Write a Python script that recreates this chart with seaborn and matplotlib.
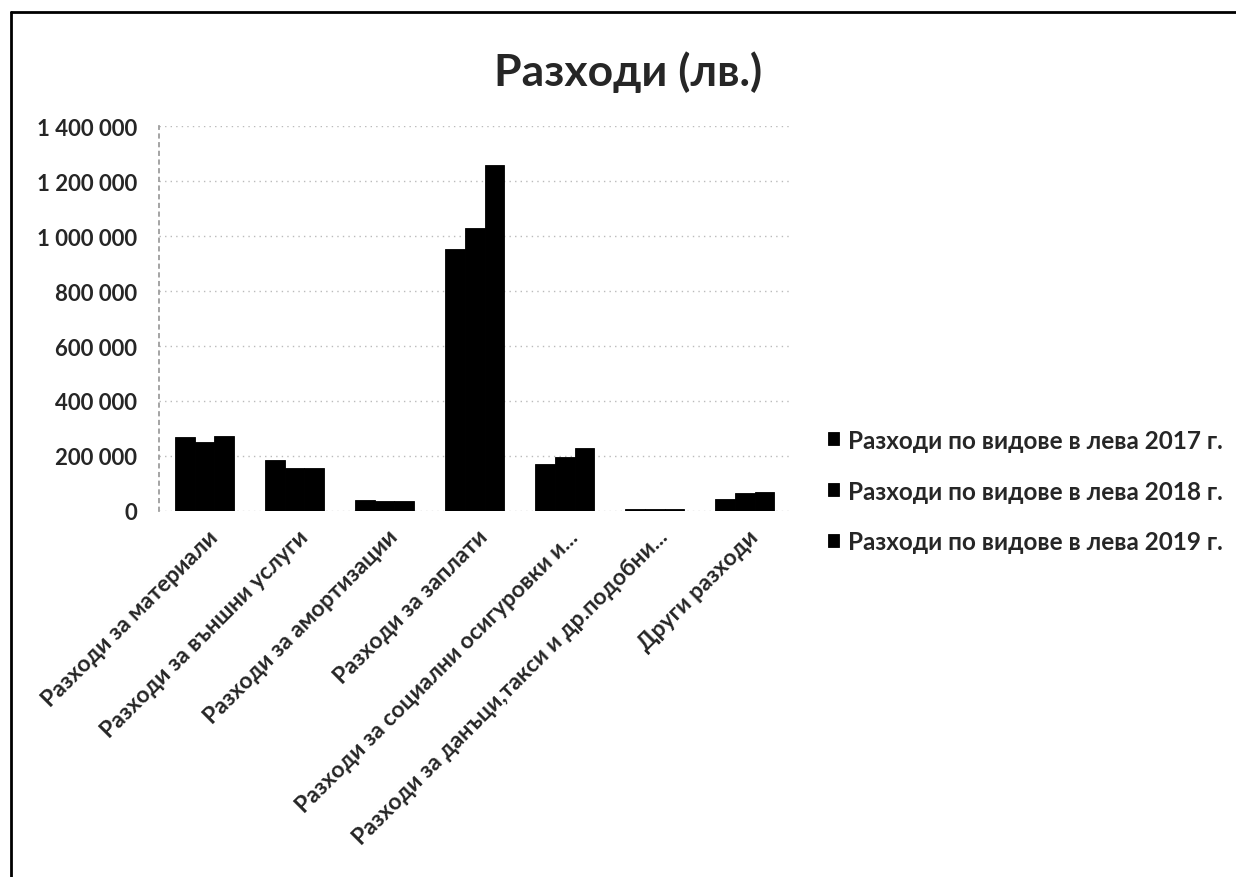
import matplotlib
matplotlib.use("Agg")
import matplotlib.pyplot as plt
import matplotlib.transforms as mtransforms
from matplotlib.lines import Line2D
from matplotlib.ticker import FuncFormatter
import seaborn as sns
import pandas as pd

categories = [
    "Разходи за материали",
    "Разходи за външни услуги",
    "Разходи за амортизации",
    "Разходи за заплати",
    "Разходи за социални осигуровки и...",
    "Разходи за данъци,такси и др.подобни...",
    "Други разходи",
]
series_names = [
    "Разходи по видове в лева 2017 г.",
    "Разходи по видове в лева 2018 г.",
    "Разходи по видове в лева 2019 г.",
]
values_2017 = [268000, 187000, 38000, 955000, 170000, 7000, 44000]
values_2018 = [252000, 157000, 37000, 1030000, 195000, 7000, 64000]
values_2019 = [272000, 157000, 37000, 1258000, 228000, 7000, 70000]
y_ticks = [0, 200000, 400000, 600000, 800000, 1000000, 1200000, 1400000]
title = "Разходи (лв.)"

rows = []
for name, vals in zip(series_names, [values_2017, values_2018, values_2019]):
    for c, v in zip(categories, vals):
        rows.append({"cat": c, "series": name, "value": v})
df = pd.DataFrame(rows)

sns.set_theme(style="white")
plt.rcParams["font.family"] = ["Lato", "DejaVu Sans"]

fig = plt.figure(figsize=(12.36, 8.78), dpi=100)
ax = fig.add_axes([0.129, 0.417, 0.51, 0.438])

sns.barplot(data=df, x="cat", y="value", hue="series",
            palette=["#000000", "#000000", "#000000"], width=0.66,
            saturation=1, ax=ax, errorbar=None, legend=True,
            edgecolor="#000000", linewidth=0.6)

ax.set_ylim(0, 1400000)
ax.set_yticks(y_ticks)
ax.yaxis.set_major_formatter(FuncFormatter(lambda v, p: f"{int(v):,}".replace(",", " ")))
ax.grid(axis="y", color="#bbbbbb", linestyle=(0, (1, 3)), linewidth=1)
ax.set_axisbelow(True)
for s in ["top", "right", "bottom"]:
    ax.spines[s].set_visible(False)
ax.spines["left"].set_color("#999999")
ax.spines["left"].set_linestyle((0, (2, 3)))
ax.set_xlabel("")
ax.set_ylabel("")
ax.tick_params(axis="y", labelsize=16, pad=16, length=0)
ax.tick_params(axis="x", length=0, pad=16)
for lbl in ax.get_yticklabels():
    lbl.set_fontweight("bold")
ax.set_xticks(range(len(categories)))
ax.set_xticklabels(categories, rotation=45, ha="right", va="center",
                   rotation_mode="anchor", fontsize=16.5, fontweight="bold")
shift = mtransforms.ScaledTranslation(10 / 100, 0, fig.dpi_scale_trans)
for lbl in ax.get_xticklabels():
    lbl.set_transform(lbl.get_transform() + shift)

handles, labels = ax.get_legend_handles_labels()
ax.legend(handles, labels, loc="center left", bbox_to_anchor=(0.670, 0.4396),
          bbox_transform=fig.transFigure, frameon=False,
          borderaxespad=0, borderpad=0,
          handlelength=0.45, handleheight=0.45, handletextpad=0.35,
          labelspacing=1.15, prop={"weight": "bold", "size": 17.5})

fig.text(0.508, 0.918, title, ha="center", va="center", fontsize=32, fontweight="bold")

fig.lines.append(Line2D([0.009, 1.0], [0.985, 0.985], transform=fig.transFigure,
                        color="#000000", linewidth=2))
fig.lines.append(Line2D([0.009, 0.009], [0.0, 0.985], transform=fig.transFigure,
                        color="#000000", linewidth=2))

fig.savefig("out.png", dpi=100)
